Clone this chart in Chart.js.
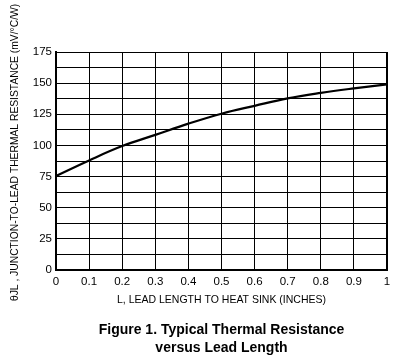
<!DOCTYPE html>
<html><head><meta charset="utf-8">
<script src="https://cdn.jsdelivr.net/npm/chart.js@4/dist/chart.umd.min.js"></script>
<style>html,body{margin:0;padding:0;background:#fff;}#wrap{width:409px;height:358px;}</style>
</head><body><div id="wrap"><canvas id="c" width="409" height="358"></canvas></div>
<script>
const leadLength = [0, 0.1, 0.2, 0.3, 0.4, 0.5, 0.6, 0.7, 0.8, 0.9, 1.0];
const thermalResistance = [75.5, 88, 99.5, 108.5, 117.5, 125.5, 131.8, 137.8, 142.2, 145.8, 149];
const xTitle = 'L, LEAD LENGTH TO HEAT SINK (INCHES)';
const yTitle = 'θJL , JUNCTION-TO-LEAD THERMAL RESISTANCE (mV/°C/W)';
const caption = ['Figure 1. Typical Thermal Resistance', 'versus Lead Length'];

const narrow = "'Liberation Sans Narrow', 'Liberation Sans', Arial, sans-serif";
const points = leadLength.map((x, i) => ({x: x, y: thermalResistance[i]}));

new Chart(document.getElementById('c'), {
  type: 'line',
  data: { datasets: [{ data: points, borderColor: '#000', borderWidth: 2.2, pointRadius: 0, tension: 0.4, fill: false }] },
  options: {
    responsive: false, animation: false,
    layout: { padding: { left: 9, right: 22, top: 52, bottom: 0.5 } },
    plugins: {
      legend: { display: false }, tooltip: { enabled: false },
      title: { display: true, position: 'bottom', fullSize: false, text: caption, color: '#000',
        font: { family: "'Liberation Sans', Arial, sans-serif", size: 14, weight: 'bold', lineHeight: 1.3 }, padding: { top: 15, bottom: 0 } }
    },
    scales: {
      x: { type: 'linear', min: 0, max: 1,
        ticks: { stepSize: 0.1, color: '#000', font: { family: narrow, size: 11.5 }, padding: 5, maxRotation: 0,
          callback: v => Number(v.toFixed(1)).toString() },
        grid: { color: '#000', lineWidth: 1, drawTicks: false },
        border: { color: '#000', width: 2 },
        title: { display: true, text: xTitle, color: '#000', font: { family: narrow, size: 10.5 }, padding: { top: 4, bottom: 0 } },
        afterFit: s => { s.height = 36; } },
      y: { min: 0, max: 175,
        ticks: { stepSize: 12.5, color: '#000', font: { family: narrow, size: 11.5 }, padding: 4, autoSkip: false,
          callback: v => (v % 25 === 0 ? v : '') },
        grid: { color: '#000', lineWidth: 1, drawTicks: false },
        border: { color: '#000', width: 2 },
        title: { display: true, text: '\u00a0\u00a0\u00a0\u00a0\u00a0\u00a0' + yTitle, color: '#000', font: { family: narrow, size: 10.3 }, padding: { top: 0, bottom: 4 } },
        afterFit: s => { s.width = 47; } }
    }
  },
  plugins: [{ id: 'frame', afterDraw(ch) { const a = ch.chartArea, c = ch.ctx; c.save(); c.strokeStyle = '#000'; c.lineWidth = 1;
    c.beginPath(); c.moveTo(a.left, a.top + 0.5); c.lineTo(a.right - 0.5, a.top + 0.5); c.lineTo(a.right - 0.5, a.bottom); c.stroke(); c.restore(); } }]
});
</script></body></html>
